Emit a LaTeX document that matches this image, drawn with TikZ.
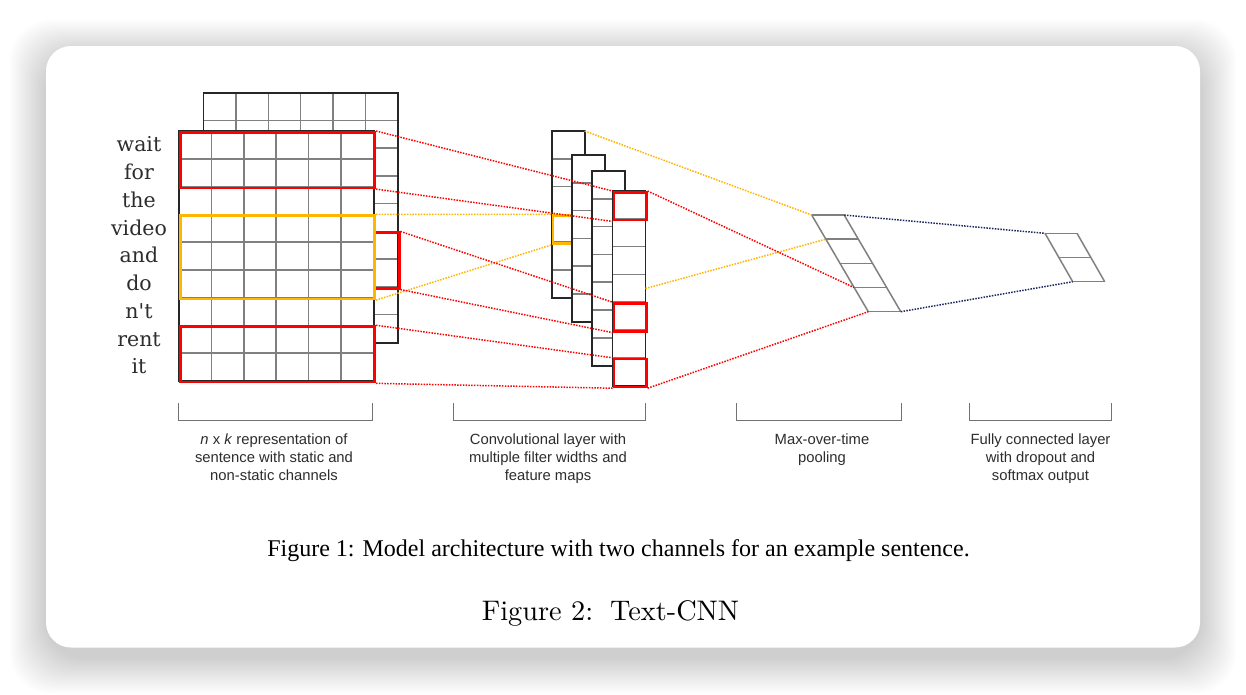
\documentclass[tikz,border=0pt]{standalone}
\usepackage{fontspec}
\newfontfamily\wordfont{DejaVu Serif}
\newfontfamily\sansfont{Liberation Sans}
\newfontfamily\timesfont{Liberation Serif}
\newfontfamily\lmten{lmroman10-regular.otf}
\definecolor{gridgray}{RGB}{128,128,128}
\definecolor{boxred}{RGB}{255,0,0}
\definecolor{boxorange}{RGB}{255,182,0}
\definecolor{linknavy}{RGB}{28,38,96}
\definecolor{txtgray}{RGB}{45,45,45}
\tikzstyle{card} = [fill=white, rounded corners=25pt]
\tikzstyle{cell} = [draw=gridgray, line width=1.5pt]
\tikzstyle{mapframe} = [draw=black!85, line width=1.8pt]
\tikzstyle{sheet} = [fill=white, inner sep=0pt, anchor=north west]
\tikzstyle{redbox} = [draw=boxred, line width=2.6pt, inner sep=0pt, anchor=north west]
\tikzstyle{orangebox} = [draw=boxorange, line width=2.6pt, inner sep=0pt, anchor=north west]
\tikzstyle{link} = [line width=1.5pt, dash pattern=on 1.5pt off 1.3pt]
\tikzstyle{word} = [font=\wordfont\fontsize{20.5}{24}\selectfont, text=txtgray, anchor=base]
\tikzstyle{desc} = [font=\sansfont\fontsize{14.8}{18}\selectfont, text=txtgray, align=center, anchor=north, inner sep=0pt]
\tikzstyle{bracket} = [draw=black!55, line width=1.5pt]

\begin{document}
\begin{tikzpicture}[x=1pt, y=-1pt]
\useasboundingbox (0,0) rectangle (1246,694);
\fill[white] (0,0) rectangle (1246,694);
% shadow and card
\foreach \i in {1,...,24}
  \fill[black, opacity=0.0075, rounded corners=40pt] ({46-1.5*\i},{56-1.5*\i}) rectangle ({1200+1.5*\i},{657.5+1.5*\i});
\fill[card] (46,46) rectangle (1200,647.5);

% back channel
\node[sheet, minimum width=194.4pt, minimum height=249.75pt] (back) at (203.5,92.7) {};
\foreach \i in {1,...,5}
  \draw[cell] ({203.5+32.4*\i},92.7) -- ({203.5+32.4*\i},342.45);
\foreach \j in {1,...,8}
  \draw[cell] (203.5,{92.7+27.75*\j}) -- (397.9,{92.7+27.75*\j});
\draw[mapframe] (back.north west) rectangle (back.south east);
\node[redbox, minimum width=24.5pt, minimum height=55.5pt] (win4) at (373.4,231.45) {};

% front channel
\node[sheet, minimum width=194.4pt, minimum height=249.75pt] (front) at (179,131) {};
\foreach \i in {1,...,5}
  \draw[cell] ({179+32.4*\i},131) -- ({179+32.4*\i},380.75);
\foreach \j in {1,...,8}
  \draw[cell] (179,{131+27.75*\j}) -- (373.4,{131+27.75*\j});
\draw[mapframe] (front.north west) rectangle (front.south east);
\node[redbox, minimum width=194.4pt, minimum height=55.5pt] (win1) at (179,131) {};
\node[orangebox, minimum width=194.4pt, minimum height=83.25pt] (win2) at (179,214.25) {};
\node[redbox, minimum width=194.4pt, minimum height=55.5pt] (win3) at (179,325.25) {};

% words
\foreach \w [count=\k] in {wait,for,the,video,and,do,n't,rent,it}
  \node[word] (w\k) at (139,{131+27.75*(\k-0.5)+7}) {\w};

% feature maps
\node[sheet, minimum width=32.5pt, minimum height=166.8pt] (map1) at (551.8,131) {};
\foreach \j in {1,...,5}
  \draw[cell] (551.8,{131+27.8*\j}) -- (584.3,{131+27.8*\j});
\draw[mapframe] (map1.north west) rectangle (map1.south east);
\node[orangebox, minimum width=32.5pt, minimum height=27.8pt] (hit0) at (551.8,214.4) {};

\node[sheet, minimum width=32.5pt, minimum height=166.8pt] (map2) at (572,155) {};
\foreach \j in {1,...,5}
  \draw[cell] (572,{155+27.8*\j}) -- (604.5,{155+27.8*\j});
\draw[mapframe] (map2.north west) rectangle (map2.south east);

\node[sheet, minimum width=32.5pt, minimum height=194.6pt] (map3) at (592.2,171) {};
\foreach \j in {1,...,6}
  \draw[cell] (592.2,{171+27.8*\j}) -- (624.7,{171+27.8*\j});
\draw[mapframe] (map3.north west) rectangle (map3.south east);

\node[sheet, minimum width=32.5pt, minimum height=194.6pt] (map4) at (612.5,191) {};
\foreach \j in {1,...,6}
  \draw[cell] (612.5,{191+27.8*\j}) -- (645,{191+27.8*\j});
\draw[mapframe] (map4.north west) rectangle (map4.south east);
\node[redbox, minimum width=32.5pt, minimum height=27.8pt] (hit1) at (612.5,191) {};
\node[redbox, minimum width=32.5pt, minimum height=27.8pt] (hit2) at (612.5,302.2) {};
\node[redbox, minimum width=32.5pt, minimum height=27.8pt] (hit3) at (612.5,357.8) {};

% pooling and output
\foreach \k in {0,...,4}
  \coordinate (pool-\k) at ({811.7+14.15*\k},{215+24.175*\k});
\foreach \k in {0,...,4}
  \draw[cell] (pool-\k) -- ++(32.5,0);
\draw[cell] (pool-0) -- (pool-4);
\draw[cell] ([xshift=32.5pt]pool-0) -- ([xshift=32.5pt]pool-4);

\foreach \k in {0,1,2}
  \coordinate (fc-\k) at ({1045+13.85*\k},{233.3+24.2*\k});
\foreach \k in {0,1,2}
  \draw[cell] (fc-\k) -- ++(32,0);
\draw[cell] (fc-0) -- (fc-2);
\draw[cell] ([xshift=32pt]fc-0) -- ([xshift=32pt]fc-2);

% links
\draw[link, boxred] (win1.north east) -- (hit1.north west);
\draw[link, boxred] (win1.south east) -- (hit1.south west);
\draw[link, boxorange] (win2.north east) -- (hit0.north west);
\draw[link, boxorange] (win2.south east) -- (hit0.south west);
\draw[link, boxred] (win4.north east) -- (hit2.north west);
\draw[link, boxred] (win4.south east) -- (hit2.south west);
\draw[link, boxred] (win3.north east) -- (hit3.north west);
\draw[link, boxred] (win3.south east) -- (hit3.south west);
\draw[link, boxorange] (map1.north east) -- (pool-0);
\draw[link, boxorange] (map4.east) -- (pool-1);
\draw[link, boxred] (hit1.north east) -- (pool-3);
\draw[link, boxred] (hit3.south east) -- (pool-4);
\draw[link, linknavy] ([xshift=32.5pt]pool-0) -- (fc-0);
\draw[link, linknavy] ([xshift=32.5pt]pool-4) -- (fc-2);

% brackets and labels
\foreach \a/\b in {178.3/372.3, 453.3/645.7, 736.7/901.7, 969.3/1111.7}
  \draw[bracket] (\a,403) -- (\a,420.7) -- (\b,420.7) -- (\b,403);
\node[desc] (lab1) at (274,434) {\textit{n} x \textit{k} representation of\\sentence with static and\\non-static channels};
\node[desc] (lab2) at (548,434) {Convolutional layer with\\multiple filter widths and\\feature maps};
\node[desc] (lab3) at (822,434) {Max-over-time\\pooling};
\node[desc] (lab4) at (1040.5,434) {Fully connected layer\\with dropout and\\softmax output};

% captions
\node[font=\timesfont\fontsize{24}{24}\selectfont, anchor=base] (fig1) at (618.5,556.7) {Figure 1: Model architecture with two channels for an example sentence.};
\node[font=\lmten\fontsize{28.3}{28}\selectfont, anchor=base] (fig2) at (610.5,620) {Figure 2:\hskip0.6em Text-CNN};
\end{tikzpicture}
\end{document}
